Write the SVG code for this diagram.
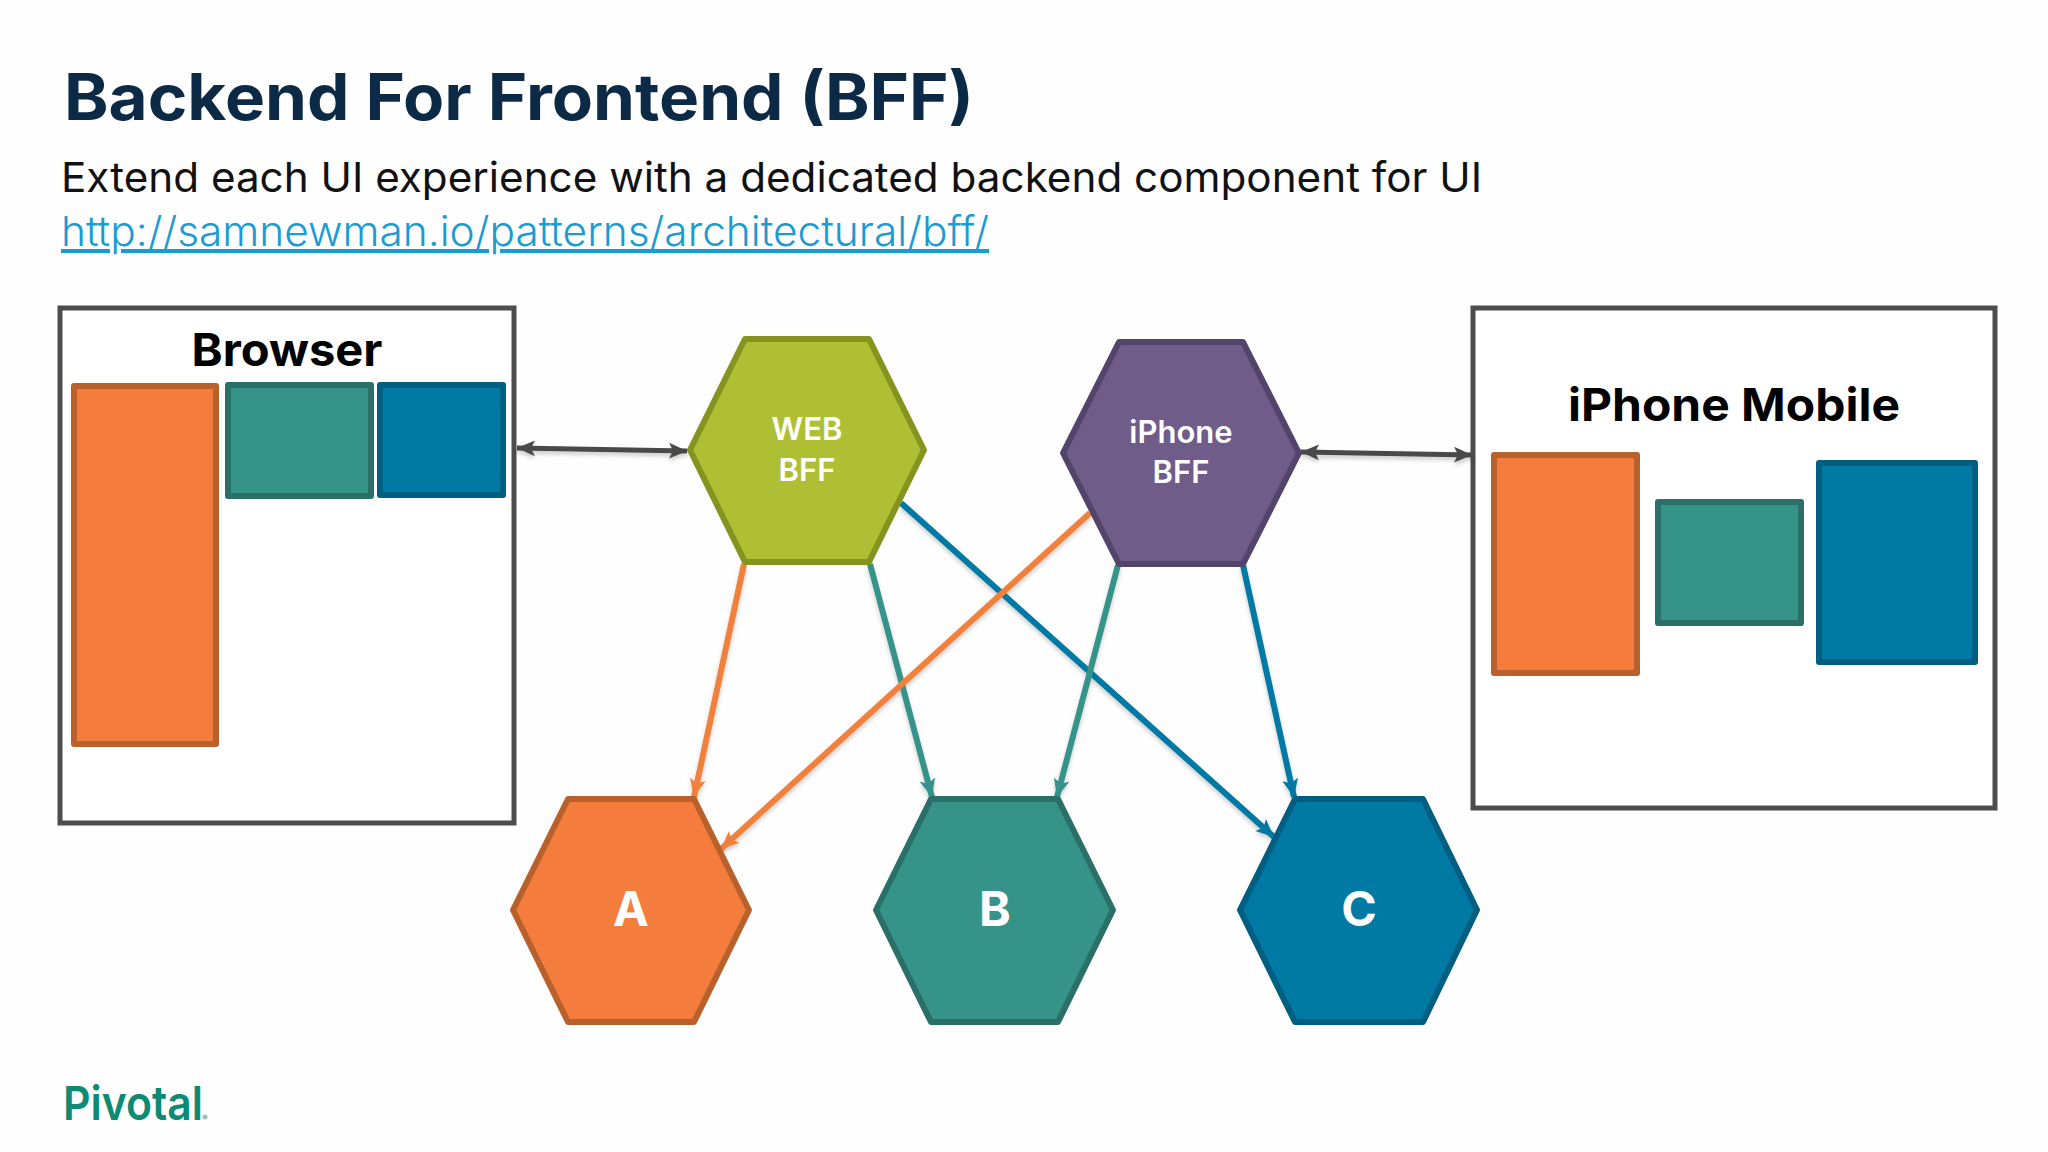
<svg xmlns="http://www.w3.org/2000/svg" width="2048" height="1152" viewBox="0 0 2048 1152">
<style>
text{font-family:"Inter","Open Sans","Liberation Sans",sans-serif}
.title{font-size:64px;font-weight:700;fill:#0c2a45}
.sub{font-size:41px;fill:#111}
.link{font-size:41px;font-weight:300;fill:#1a9bd2;text-decoration:underline;text-decoration-thickness:2px}
.box{fill:#fff;stroke:#4d4d4d;stroke-width:5}
.head{font-size:45px;font-weight:700;fill:#000;text-anchor:middle}
.bff{font-size:31px;font-weight:600;fill:#fff;text-anchor:middle}
.big{font-size:48px;font-weight:700;fill:#fff;text-anchor:middle}
.hex,.r{stroke-width:6;stroke-linejoin:round}
.o{fill:#f47c3c;stroke:#b9612c}.t{fill:#36938a;stroke:#2a6f68}.b{fill:#0079a5;stroke:#005e80}
.g{fill:#afbf33;stroke:#85931f}.p{fill:#6f5c88;stroke:#53446c}
.c{fill:none;stroke-width:6}
.co{stroke:#f0813d;marker-end:url(#mo)}.ct{stroke:#36938a;marker-end:url(#mt)}.cb{stroke:#0079a5;marker-end:url(#mb)}
.cd{stroke:#4a4a4a;stroke-width:5;marker-start:url(#md);marker-end:url(#md)}
</style>
<defs>
<filter id="sh" x="-10%" y="-10%" width="120%" height="120%"><feDropShadow dx="0" dy="3" stdDeviation="2" flood-color="#000" flood-opacity="0.2"/></filter>
<marker id="mo" markerUnits="userSpaceOnUse" markerWidth="20" markerHeight="18" refX="18" refY="9" orient="auto"><path d="M18,9 L0,1 L4,9 L0,17Z" fill="#f0813d"/></marker>
<marker id="mt" markerUnits="userSpaceOnUse" markerWidth="20" markerHeight="18" refX="18" refY="9" orient="auto"><path d="M18,9 L0,1 L4,9 L0,17Z" fill="#36938a"/></marker>
<marker id="mb" markerUnits="userSpaceOnUse" markerWidth="20" markerHeight="18" refX="18" refY="9" orient="auto"><path d="M18,9 L0,1 L4,9 L0,17Z" fill="#0079a5"/></marker>
<marker id="md" markerUnits="userSpaceOnUse" markerWidth="20" markerHeight="18" refX="18" refY="9" orient="auto-start-reverse"><path d="M18,9 L0,1 L4,9 L0,17Z" fill="#4a4a4a"/></marker>
</defs>
<rect width="2048" height="1152" fill="#fefefe"/>
<text class="title" x="64" y="120" textLength="910" lengthAdjust="spacingAndGlyphs">Backend For Frontend (BFF)</text>
<text class="sub" x="61" y="192" textLength="1421" lengthAdjust="spacingAndGlyphs">Extend each UI experience with a dedicated backend component for UI</text>
<text class="link" x="61" y="246" textLength="928" lengthAdjust="spacingAndGlyphs">http://samnewman.io/patterns/architectural/bff/</text>
<g id="browser">
<rect class="box" x="60" y="308" width="454" height="515"/>
<text class="head" x="287" y="366" textLength="191" lengthAdjust="spacingAndGlyphs">Browser</text>
<rect class="r o" x="74" y="386" width="142" height="358"/>
<rect class="r t" x="228" y="385" width="143" height="111"/>
<rect class="r b" x="380" y="385" width="123" height="110"/>
</g>
<g id="iphone-mobile">
<rect class="box" x="1473" y="308" width="522" height="500"/>
<text class="head" x="1734" y="421" textLength="332" lengthAdjust="spacingAndGlyphs">iPhone Mobile</text>
<rect class="r o" x="1494" y="455" width="143" height="218"/>
<rect class="r t" x="1658" y="502" width="143" height="121"/>
<rect class="r b" x="1819" y="463" width="156" height="199"/>
</g>
<g id="connectors" filter="url(#sh)">
<line class="c cd" x1="517" y1="448" x2="687" y2="451"/>
<line class="c cd" x1="1301" y1="452" x2="1472" y2="455"/>
<line class="c co" x1="744" y1="564" x2="694" y2="797"/>
<line class="c ct" x1="870" y1="564" x2="932" y2="797"/>
<line class="c cb" x1="901" y1="503" x2="1274" y2="837"/>
<line class="c co" x1="1090" y1="513" x2="721" y2="849"/>
<line class="c ct" x1="1118" y1="565" x2="1057" y2="797"/>
<line class="c cb" x1="1243" y1="565" x2="1294" y2="797"/>
</g>
<g id="web-bff">
<polygon class="hex g" points="745,339 869,339 924,450 869,562 745,562 690,450"/>
<text class="bff" x="807" y="440">WEB</text><text class="bff" x="807" y="481">BFF</text>
</g>
<g id="iphone-bff">
<polygon class="hex p" points="1119,342 1243,342 1299,453 1243,564 1119,564 1063,453"/>
<text class="bff" x="1181" y="443">iPhone</text><text class="bff" x="1181" y="483">BFF</text>
</g>
<g id="a">
<polygon class="hex o" points="568,799 694,799 749,910 694,1022 568,1022 513,910"/>
<text class="big" x="631" y="926">A</text>
</g>
<g id="b">
<polygon class="hex t" points="931,799 1058,799 1113,910 1058,1022 931,1022 876,910"/>
<text class="big" x="995" y="926">B</text>
</g>
<g id="c">
<polygon class="hex b" points="1295,799 1423,799 1477,910 1423,1022 1295,1022 1240,910"/>
<text class="big" x="1359" y="926">C</text>
</g>
<g id="logo">
<text x="63" y="1120" font-size="47" font-weight="600" fill="#0d8a73" textLength="140" lengthAdjust="spacingAndGlyphs">Pivotal</text>
<circle cx="205" cy="1117" r="2.5" fill="#9dbdb5"/>
</g>
</svg>
